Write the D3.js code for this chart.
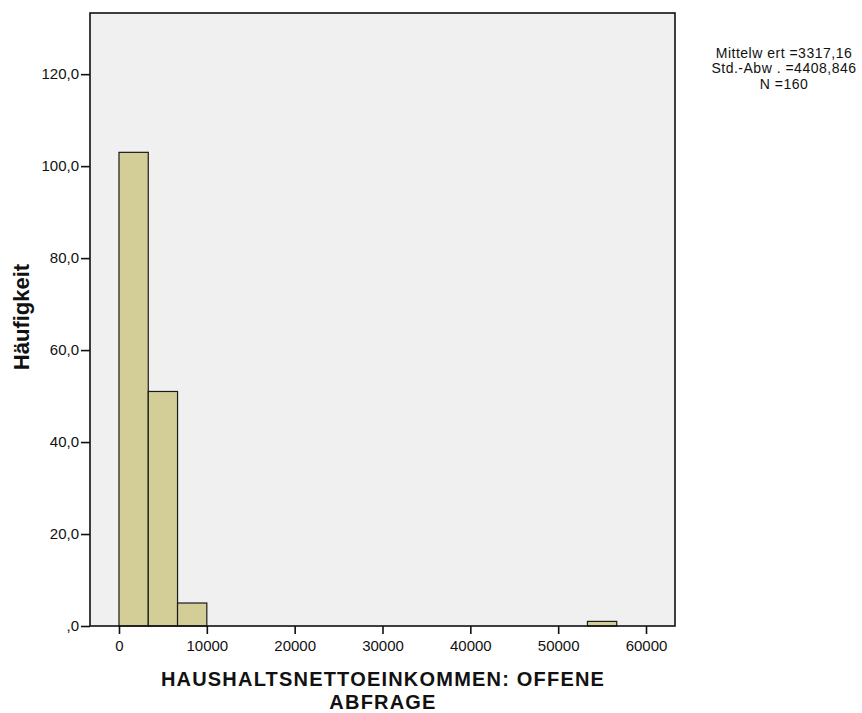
<!DOCTYPE html>
<html><head><meta charset="utf-8">
<script src="https://cdn.jsdelivr.net/npm/d3@7"></script>
<style>body{margin:0;background:#fff}svg{display:block}text{font-family:"Liberation Sans",Arial,sans-serif}</style>
</head><body>
<svg id="c" width="862" height="713"></svg>
<script>
const binStarts = [0, 3333.33, 6666.67, 53333.33];
const binEnds = [3333.33, 6666.67, 10000, 56666.67];
const counts = [103, 51, 5, 1];
const xTicks = [0, 10000, 20000, 30000, 40000, 50000, 60000];
const yTicks = [0, 20, 40, 60, 80, 100, 120];
const yTickLabels = [",0", "20,0", "40,0", "60,0", "80,0", "100,0", "120,0"];
const statsLines = ["Mittelw ert =3317,16", "Std.-Abw . =4408,846", "N =160"];
const xTitle = ["HAUSHALTSNETTOEINKOMMEN: OFFENE", "ABFRAGE"];
const yTitle = "Häufigkeit";

const svg = d3.select("#c");
const L = 90, R = 675, T = 13, B = 626;
const x = d3.scaleLinear().domain([-3300, 63300]).range([L, R]);
const y = d3.scaleLinear().domain([0, 133.3]).range([B, T]);

svg.append("rect").attr("x", L).attr("y", T).attr("width", R - L).attr("height", B - T).attr("fill", "#f0f0f0");

svg.selectAll("rect.bar").data(counts).join("rect").attr("class", "bar")
  .attr("x", (d, i) => x(binStarts[i]))
  .attr("width", (d, i) => x(binEnds[i]) - x(binStarts[i]))
  .attr("y", d => y(d)).attr("height", d => B - y(d))
  .attr("fill", "#d3ce97").attr("stroke", "#1a1a1a").attr("stroke-width", 1.2);

svg.append("rect").attr("x", L).attr("y", T).attr("width", R - L).attr("height", B - T)
  .attr("fill", "none").attr("stroke", "#111").attr("stroke-width", 1.6);

const xa = svg.append("g").attr("transform", `translate(0,${B})`)
  .call(d3.axisBottom(x).tickValues(xTicks).tickFormat(d3.format("d")).tickSize(8).tickPadding(6));
xa.select(".domain").remove();
xa.selectAll("line").attr("stroke", "#111").attr("stroke-width", 1.6);
xa.selectAll("text").attr("font-size", 15).attr("fill", "#111").attr("font-family", "Liberation Sans, Arial, sans-serif");

const ya = svg.append("g").attr("transform", `translate(${L},0)`)
  .call(d3.axisLeft(y).tickValues(yTicks).tickFormat((d, i) => yTickLabels[i]).tickSize(9).tickPadding(2));
ya.select(".domain").remove();
ya.selectAll("line").attr("stroke", "#111").attr("stroke-width", 1.6);
ya.selectAll("text").attr("font-size", 15).attr("fill", "#111").attr("font-family", "Liberation Sans, Arial, sans-serif");

svg.append("g").selectAll("text").data(statsLines).join("text")
  .attr("x", 784).attr("y", (d, i) => 57.5 + i * 15.5)
  .attr("text-anchor", "middle").attr("font-size", 14).attr("fill", "#111")
  .style("letter-spacing", "0.5px").text(d => d);

svg.append("g").selectAll("text").data(xTitle).join("text")
  .attr("x", 383).attr("y", (d, i) => 686 + i * 22.5)
  .attr("text-anchor", "middle").attr("font-size", 20).attr("font-weight", "bold").attr("fill", "#111")
  .style("letter-spacing", "1.2px").text(d => d);

svg.append("text").attr("transform", "translate(29,317) rotate(-90)")
  .attr("text-anchor", "middle").attr("font-size", 22).attr("font-weight", "bold").attr("fill", "#111")
  .text(yTitle);
</script>
</body></html>
